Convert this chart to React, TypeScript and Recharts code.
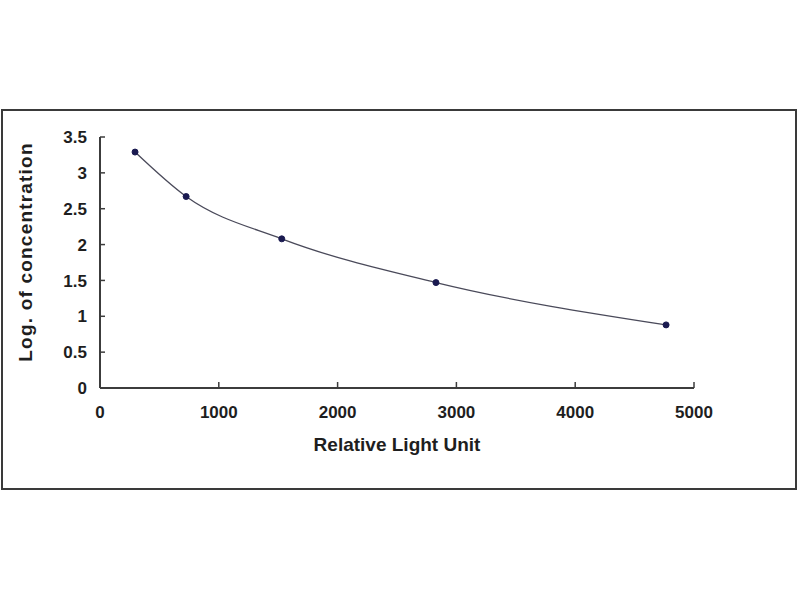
import React from 'react';
import { LineChart, Line, XAxis, YAxis, Label } from 'recharts';

const rlu = [295, 725, 1530, 2828, 4765];
const logConc = [3.29, 2.67, 2.08, 1.47, 0.88];
const xTicks = [0, 1000, 2000, 3000, 4000, 5000];
const yTicks = [0, 0.5, 1, 1.5, 2, 2.5, 3, 3.5];

const data = rlu.map((x, i) => ({ x, y: logConc[i] }));

const FONT = '"Liberation Sans", Arial, sans-serif';
const AXIS = '#3c3c3c';
const TEXT = '#1e1e1e';

const XTick = (props: any) => {
  const { x, y, payload } = props;
  return (
    <g>
      <line x1={x} y1={y} x2={x} y2={y - 6} stroke={AXIS} strokeWidth={1.5} />
      <text x={x} y={y + 30} textAnchor="middle" fontFamily={FONT} fontWeight="bold" fontSize={17} fill={TEXT}>
        {payload.value}
      </text>
    </g>
  );
};

const YTick = (props: any) => {
  const { x, y, payload } = props;
  return (
    <g>
      <line x1={x} y1={y} x2={x + 5} y2={y} stroke={AXIS} strokeWidth={1.5} />
      <text x={x - 13} y={y} dy="0.36em" textAnchor="end" fontFamily={FONT} fontWeight="bold" fontSize={17} fill={TEXT}>
        {payload.value}
      </text>
    </g>
  );
};

export default function App() {
  return (
    <div style={{ position: 'absolute', left: 0, top: 0, width: 800, height: 600, background: '#fff' }}>
      <div
        style={{
          position: 'absolute',
          left: 1,
          top: 109,
          width: 792,
          height: 377,
          border: '2px solid #3a3a3a',
        }}
      />
      <div style={{ position: 'absolute', left: 0, top: 0 }}>
        <LineChart width={800} height={600} data={data} margin={{ top: 137, right: 106, bottom: 182, left: 40 }}>
          <XAxis
            dataKey="x"
            type="number"
            domain={[0, 5000]}
            ticks={xTicks}
            interval={0}
            height={30}
            tickSize={0}
            tickMargin={0}
            tickLine={false}
            tick={<XTick />}
            axisLine={{ stroke: AXIS, strokeWidth: 2 }}
          >
            <Label
              content={() => (
                <text x={397} y={451} textAnchor="middle" fontFamily={FONT} fontWeight="bold" fontSize={19} fill={TEXT}>
                  Relative Light Unit
                </text>
              )}
            />
          </XAxis>
          <YAxis
            dataKey="y"
            type="number"
            domain={[0, 3.5]}
            ticks={yTicks}
            interval={0}
            width={60}
            tickSize={0}
            tickMargin={0}
            tickLine={false}
            tick={<YTick />}
            axisLine={{ stroke: AXIS, strokeWidth: 2 }}
          >
            <Label
              content={() => (
                <text
                  transform="translate(32,252) rotate(-90)"
                  textAnchor="middle"
                  fontFamily={FONT}
                  fontWeight="bold"
                  fontSize={19}
                  letterSpacing={1.2}
                  fill={TEXT}
                >
                  Log. of concentration
                </text>
              )}
            />
          </YAxis>
          <Line
            type="monotone"
            dataKey="y"
            stroke="#4a4a5a"
            strokeWidth={1.3}
            dot={{ r: 3, fill: '#1a1a50', stroke: '#1a1a50', strokeWidth: 1 }}
            isAnimationActive={false}
          />
        </LineChart>
      </div>
    </div>
  );
}
